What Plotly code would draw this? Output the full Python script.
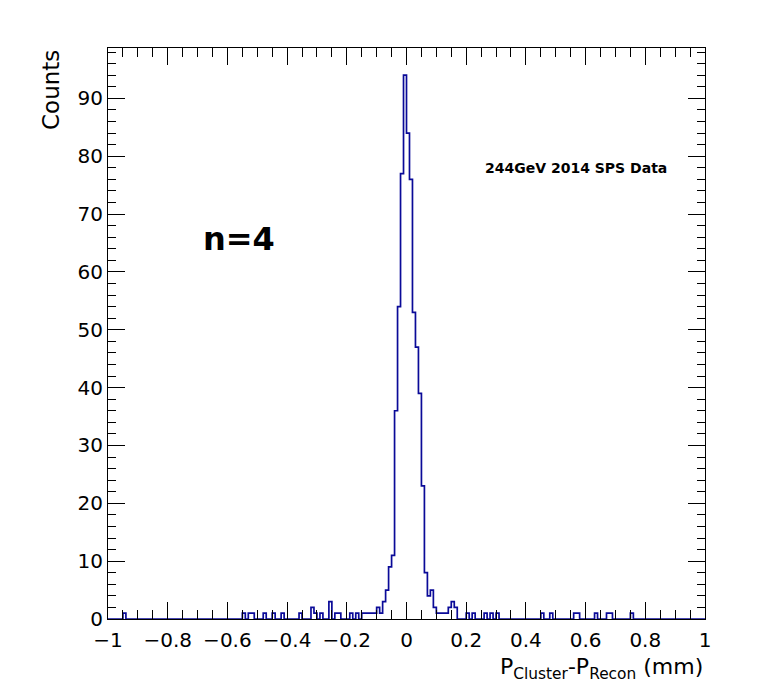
import numpy as np
import plotly.graph_objects as go

# Binning of the residual histogram: 200 bins of 0.01 mm over [-1, 1]
x_min, x_max, n_bins = -1.0, 1.0, 200

# Non-empty bins: lower bin edge (mm) and entries
bin_low = [-0.95, -0.55, -0.53, -0.52, -0.48, -0.45, -0.42, -0.36, -0.32, -0.31,
           -0.29, -0.26, -0.24, -0.23, -0.19, -0.17, -0.15, -0.14, -0.13, -0.12,
           -0.11, -0.10, -0.09, -0.08, -0.07, -0.06, -0.05, -0.04, -0.03, -0.02,
           -0.01, 0.00, 0.01, 0.02, 0.03, 0.04, 0.05, 0.06, 0.07, 0.08,
           0.09, 0.10, 0.11, 0.12, 0.13, 0.14, 0.15, 0.16, 0.20, 0.22,
           0.26, 0.28, 0.30, 0.45, 0.48, 0.56, 0.57, 0.63, 0.67, 0.68,
           0.75]
counts = [1, 1, 1, 1, 1, 1, 1, 1, 2, 1,
          1, 3, 1, 1, 1, 1, 1, 1, 1, 1,
          1, 2, 1, 3, 5, 9, 11, 36, 54, 77,
          94, 84, 76, 53, 47, 39, 23, 8, 4, 5,
          2, 1, 1, 1, 1, 2, 3, 2, 1, 1,
          1, 1, 1, 1, 1, 1, 1, 1, 1, 1,
          1]

# Axis tick labels
x_ticks = [-1, -0.8, -0.6, -0.4, -0.2, 0, 0.2, 0.4, 0.6, 0.8, 1]
y_ticks = [0, 10, 20, 30, 40, 50, 60, 70, 80, 90]

bin_w = (x_max - x_min) / n_bins
edges = x_min + bin_w * np.arange(n_bins + 1)
h = np.zeros(n_bins)
for lo, c in zip(bin_low, counts):
    h[int(round((lo - x_min) / bin_w))] = c

# Step outline of the histogram (ROOT "HIST" style)
xs = np.concatenate([[edges[0]], edges])
ys = np.concatenate([[0.0], h, [0.0]])

font = "DejaVu Sans"
line_col = "#0a0a98"

fig = go.Figure()
fig.add_trace(go.Scatter(
    x=xs, y=ys, mode="lines", line=dict(color=line_col, width=1.7, shape="hv"),
    showlegend=False, hoverinfo="skip"))

y_top = max(counts) * 1.05

axis_common = dict(
    showline=True, linecolor="black", linewidth=1, mirror="ticks",
    ticks="inside", tickcolor="black", tickwidth=1, ticklen=17,
    showgrid=False, zeroline=False,
    tickfont=dict(family=font, size=20, color="black"),
)

fig.update_layout(
    width=764, height=686,
    margin=dict(l=108, r=59, t=48, b=67),
    paper_bgcolor="white", plot_bgcolor="white",
    xaxis=dict(range=[x_min, x_max], tickvals=x_ticks, ticklabelstandoff=3,
               minor=dict(dtick=0.05, tick0=-1, ticks="inside", ticklen=9,
                          tickcolor="black", tickwidth=1, showgrid=False),
               **axis_common),
    yaxis=dict(range=[0, y_top], tickvals=y_ticks,
               minor=dict(dtick=2, tick0=0, ticks="inside", ticklen=8,
                          tickcolor="black", tickwidth=1, showgrid=False),
               **axis_common),
)

# Axis titles (ROOT places them at the far end of each axis)
fig.add_annotation(
    text="P<sub>Cluster</sub>-P<sub>Recon</sub> (mm)", xref="paper", yref="paper",
    x=1.0, y=0, xanchor="right", yanchor="top", yshift=-33, showarrow=False,
    font=dict(family=font, size=22, color="black"))
fig.add_annotation(
    text="Counts", xref="paper", yref="paper", x=0, y=1.0, xshift=-57,
    xanchor="center", yanchor="top", textangle=-90, showarrow=False,
    font=dict(family=font, size=23, color="black"))

# Labels inside the frame
fig.add_annotation(
    text="<b>244GeV 2014 SPS Data</b>", x=0.567, y=78, xref="x", yref="y",
    showarrow=False, font=dict(family=font, size=14, color="black"))
fig.add_annotation(
    text="<b>n=4</b>", x=-0.56, y=65.7, xref="x", yref="y",
    showarrow=False, font=dict(family=font, size=32, color="black"))

fig.write_html("out.html")
